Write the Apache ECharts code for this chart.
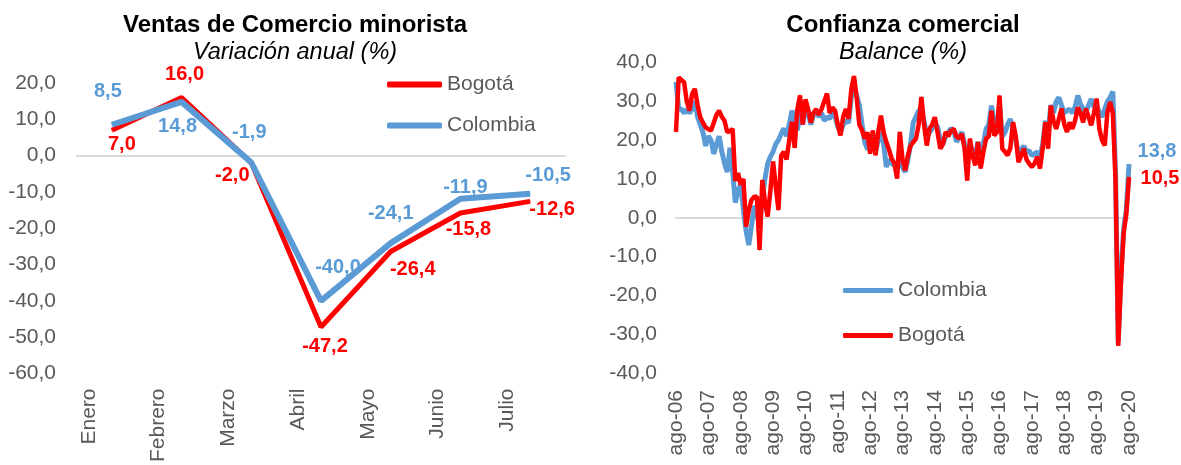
<!DOCTYPE html>
<html>
<head>
<meta charset="utf-8">
<script src="https://cdn.jsdelivr.net/npm/echarts@6/dist/echarts.min.js"></script>
<style>
  html, body { margin: 0; padding: 0; background: #fff; }
  #chart { width: 1181px; height: 465px; }
</style>
</head>
<body>
<div id="chart"></div>
<script>
// Ventas de comercio minorista, variación anual (%)
const meses = ['Enero', 'Febrero', 'Marzo', 'Abril', 'Mayo', 'Junio', 'Julio'];
const ventasBogota = [7.0, 16.0, -2.0, -47.2, -26.4, -15.8, -12.6];
const ventasColombia = [8.5, 14.8, -1.9, -40.0, -24.1, -11.9, -10.5];

// Confianza comercial, balance (%), mensual ago-06 .. ago-20
const mesesAbrev = ['ago', 'sep', 'oct', 'nov', 'dic', 'ene', 'feb', 'mar', 'abr', 'may', 'jun', 'jul'];
const confianzaBogota = [
  22.1, 36.2, 35.5, 34.9, 30.0, 27.6, 31.9, 33.2, 29.0, 25.9, 24.5, 23.3,
  22.8, 22.5, 24.5, 26.5, 27.6, 26.0, 25.0, 22.1, 22.3, 22.9, 9.5, 11.5,
  8.5, 10.0, -2.3, 2.0, 4.6, 5.4, 5.4, -8.3, 9.7, 4.0, 0.3, 7.0,
  14.5, 8.0, 2.0, 16.0, 17.0, 15.0, 20.0, 24.7, 18.0, 28.0, 31.5, 24.0,
  30.5, 28.0, 24.5, 27.0, 28.0, 26.5, 28.0, 30.0, 32.0, 27.0, 28.4, 27.6,
  24.0, 21.2, 26.0, 28.0, 25.5, 33.0, 36.5, 31.0, 24.0, 22.5, 20.4, 22.0,
  16.5, 22.5, 16.1, 22.0, 26.3, 22.0, 19.5, 17.5, 15.2, 14.0, 10.1, 22.1,
  15.0, 12.2, 16.0, 18.6, 19.5, 20.4, 24.0, 31.1, 24.0, 18.6, 22.9, 24.0,
  25.9, 22.0, 17.8, 19.0, 22.1, 21.0, 22.5, 22.9, 21.0, 20.4, 21.6, 18.0,
  9.6, 20.4, 16.0, 13.5, 19.5, 12.7, 17.0, 20.4, 21.0, 27.6, 21.2, 22.0,
  31.5, 17.8, 17.0, 16.1, 18.0, 24.6, 21.0, 14.3, 16.0, 17.8, 15.0, 13.9,
  13.1, 14.0, 15.7, 12.7, 18.0, 24.6, 17.8, 28.9, 25.0, 22.9, 25.5, 28.1,
  24.0, 22.1, 24.6, 22.9, 25.0, 28.4, 27.0, 24.6, 28.1, 26.0, 23.8, 27.0,
  30.7, 22.9, 20.0, 18.6, 27.2, 29.8, 27.0, 10.0, -33.0, -17.0, -4.0, 1.0,
  10.5
];
const confianzaColombia = [
  35.0, 28.0, 28.0, 27.0, 28.0, 27.0, 28.0, 30.0, 26.0, 24.0, 22.0, 18.5,
  21.0, 20.0, 16.5, 19.0, 21.0, 17.0, 14.0, 11.8, 18.0, 12.0, 3.9, 7.0,
  8.6, 2.0, -3.5, -7.0, -2.0, 3.0, 2.0, -3.0, 5.4, 10.0, 14.0, 15.7,
  17.0, 19.0, 20.0, 21.6, 23.0, 21.0, 24.0, 27.6, 25.0, 22.5, 27.0, 24.0,
  28.5, 27.0, 24.0, 26.5, 27.5, 26.0, 27.0, 25.0, 26.0, 25.5, 27.0, 26.0,
  23.5, 22.0, 24.0, 25.0, 24.5, 31.0, 34.0, 31.5, 29.0, 24.0, 19.5, 17.7,
  18.0, 21.0, 17.0, 20.0, 22.0, 19.0, 13.1, 15.0, 14.0, 13.5, 12.5, 18.0,
  13.0, 11.8, 15.0, 19.0, 24.6, 26.0, 27.6, 28.0, 25.0, 21.0, 22.0, 23.0,
  24.0, 23.5, 20.0, 19.0, 21.0, 22.0, 23.0, 22.5, 19.6, 20.5, 22.1, 19.0,
  13.5, 19.0, 17.0, 16.0, 19.5, 16.0, 19.0, 22.9, 24.0, 28.9, 24.6, 23.0,
  29.0, 21.0, 22.0, 24.0, 25.4, 23.0, 20.0, 16.5, 17.5, 18.5, 17.0, 17.3,
  16.0, 16.5, 17.0, 15.5, 19.0, 25.0, 22.0, 29.0, 27.0, 30.0, 31.0, 28.9,
  27.0, 27.6, 28.0, 27.0, 28.5, 31.5, 29.3, 28.0, 27.2, 29.0, 30.6, 28.5,
  29.0, 27.0, 26.0, 28.0, 30.0, 31.0, 32.5, 12.0, -32.0, -15.0, -3.0, 2.0,
  13.8
];

// etiquetas de los meses: ago-06, sep-06, ...
const fechas = confianzaBogota.map((_, i) => {
  const anio = 6 + Math.floor((i + 7) / 12);
  return mesesAbrev[i % 12] + '-' + String(anio).padStart(2, '0');
});

// desplazamiento de las etiquetas de datos (px) respecto al punto
const offsetsBogota = [[10, 14], [3, -23], [-19, 13], [4, 19], [22, 18], [8, 16], [22, 8]];
const offsetsColombia = [[-4, -33], [-4, 25], [-2, -30], [17, -33], [0, -30], [5, -11], [18, -18]];

const ROJO = '#FF0000';
const AZUL = '#5B9BD5';
const GRIS = '#595959';
const FONT = "'Liberation Sans', Arial, sans-serif";

const fmt = (v) => v.toFixed(1).replace('.', ',');

const labelData = (values, offsets) => values.map((v, i) => ({
  value: v,
  label: { offset: offsets[i] }
}));

const lastLabel = (values, offset) => values.map((v, i) => (
  i === values.length - 1
    ? { value: v, label: { show: true, offset: offset } }
    : v
));

const chart = echarts.init(document.getElementById('chart'));

const yAxisBase = {
  type: 'value',
  interval: 10,
  axisLine: { show: false },
  axisTick: { show: false },
  splitLine: { show: false },
  axisLabel: {
    color: GRIS,
    fontSize: 21,
    fontFamily: FONT,
    formatter: (v) => fmt(v)
  }
};

const titleStyle = { fontSize: 24, fontWeight: 'bold', color: '#000', fontFamily: FONT };
const subStyle = { fontSize: 23.5, fontStyle: 'italic', color: '#000', fontFamily: FONT };

const option = {
  animation: false,
  backgroundColor: '#fff',
  textStyle: { fontFamily: FONT },
  title: [
    {
      text: 'Ventas de Comercio minorista',
      subtext: 'Variación anual (%)',
      left: 290,
      top: 8,
      textAlign: 'center',
      itemGap: 4,
      textStyle: titleStyle,
      subtextStyle: subStyle
    },
    {
      text: 'Confianza comercial',
      subtext: 'Balance (%)',
      left: 898,
      top: 8,
      textAlign: 'center',
      itemGap: 4,
      textStyle: titleStyle,
      subtextStyle: subStyle
    }
  ],
  legend: [
    {
      data: ['Bogotá', 'Colombia'],
      orient: 'vertical',
      left: 387,
      top: 74,
      padding: 0,
      itemWidth: 55,
      itemHeight: 6,
      itemGap: 20,
      itemTextGap: 4,
      icon: 'roundRect',
      selectedMode: false,
      textStyle: { color: GRIS, fontSize: 21, fontFamily: FONT }
    },
    {
      data: ['Colombia', 'Bogotá'],
      orient: 'vertical',
      left: 843,
      top: 280,
      padding: 0,
      itemWidth: 50,
      itemHeight: 5,
      itemGap: 24,
      itemTextGap: 5,
      icon: 'roundRect',
      selectedMode: false,
      textStyle: { color: GRIS, fontSize: 21, fontFamily: FONT }
    }
  ],
  grid: [
    { left: 77, top: 83, width: 488, height: 297 },
    { left: 676, top: 62.5, width: 453, height: 310.5 }
  ],
  xAxis: [
    {
      type: 'category',
      gridIndex: 0,
      data: meses,
      axisLine: { show: false, onZero: false },
      axisTick: { show: false },
      axisLabel: {
        interval: 0,
        rotate: 90,
        margin: 15,
        color: GRIS,
        fontSize: 21,
        fontFamily: FONT,
        // etiquetas corridas a la izquierda del punto, como en el original
        verticalAlign: 'bottom',
        lineHeight: 46
      }
    },
    {
      type: 'category',
      gridIndex: 0,
      data: meses,
      position: 'top',
      axisLine: { show: true, onZero: true, lineStyle: { color: '#D9D9D9', width: 2 } },
      axisTick: { show: false },
      axisLabel: { show: false }
    },
    {
      type: 'category',
      gridIndex: 1,
      data: fechas,
      boundaryGap: false,
      axisLine: { show: false, onZero: false },
      axisTick: { show: false },
      axisLabel: {
        interval: 11,
        rotate: 90,
        margin: 17,
        color: GRIS,
        fontSize: 21,
        fontFamily: FONT
      }
    },
    {
      type: 'category',
      gridIndex: 1,
      data: fechas,
      boundaryGap: false,
      position: 'top',
      axisLine: { show: true, onZero: true, lineStyle: { color: '#D9D9D9', width: 2 } },
      axisTick: { show: false },
      axisLabel: { show: false }
    }
  ],
  yAxis: [
    Object.assign({}, yAxisBase, {
      gridIndex: 0, min: -60, max: 20,
      axisLabel: Object.assign({}, yAxisBase.axisLabel, { margin: 21 })
    }),
    Object.assign({}, yAxisBase, {
      gridIndex: 1, min: -40, max: 40,
      axisLabel: Object.assign({}, yAxisBase.axisLabel, { margin: 19 })
    })
  ],
  series: [
    {
      name: 'Bogotá',
      type: 'line',
      xAxisIndex: 0,
      yAxisIndex: 0,
      data: labelData(ventasBogota, offsetsBogota),
      symbol: 'circle',
      symbolSize: 1,
      lineStyle: { color: ROJO, width: 5 },
      itemStyle: { color: ROJO },
      label: {
        show: true,
        position: 'inside',
        color: ROJO,
        fontSize: 20,
        fontWeight: 'bold',
        fontFamily: FONT,
        formatter: (p) => fmt(p.value)
      }
    },
    {
      name: 'Colombia',
      type: 'line',
      xAxisIndex: 0,
      yAxisIndex: 0,
      data: labelData(ventasColombia, offsetsColombia),
      symbol: 'circle',
      symbolSize: 1,
      lineStyle: { color: AZUL, width: 6 },
      itemStyle: { color: AZUL },
      label: {
        show: true,
        position: 'inside',
        color: AZUL,
        fontSize: 20,
        fontWeight: 'bold',
        fontFamily: FONT,
        formatter: (p) => fmt(p.value)
      }
    },
    {
      name: 'Colombia',
      type: 'line',
      xAxisIndex: 2,
      yAxisIndex: 1,
      data: lastLabel(confianzaColombia, [28, -13]),
      symbol: 'circle',
      symbolSize: 1,
      lineStyle: { color: AZUL, width: 5 },
      itemStyle: { color: AZUL },
      label: {
        show: false,
        position: 'inside',
        color: AZUL,
        fontSize: 20,
        fontWeight: 'bold',
        fontFamily: FONT,
        formatter: (p) => fmt(p.value)
      }
    },
    {
      name: 'Bogotá',
      type: 'line',
      xAxisIndex: 2,
      yAxisIndex: 1,
      data: lastLabel(confianzaBogota, [31, 1]),
      symbol: 'circle',
      symbolSize: 1,
      lineStyle: { color: ROJO, width: 4.5 },
      itemStyle: { color: ROJO },
      label: {
        show: false,
        position: 'inside',
        color: ROJO,
        fontSize: 20,
        fontWeight: 'bold',
        fontFamily: FONT,
        formatter: (p) => fmt(p.value)
      }
    }
  ]
};

chart.setOption(option);
</script>
</body>
</html>
